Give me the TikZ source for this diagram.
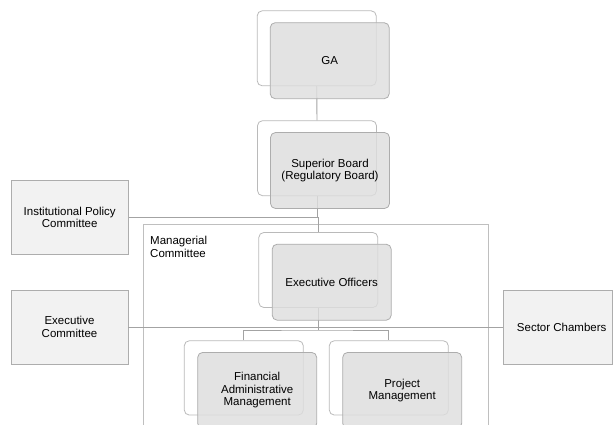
\documentclass[tikz,border=0pt]{standalone}
\usepackage{fontspec}
\setmainfont{Liberation Sans}
\begin{document}
\begin{tikzpicture}[x=1pt,y=-1pt,
  font=\fontsize{11.5}{12.6}\selectfont,
  backbox/.style={draw=black!27, fill=white, rounded corners=5pt, line width=0.8pt,
    minimum width=119pt, minimum height=75pt, inner sep=0pt},
  frontbox/.style={draw=black!32, fill=black!13, fill opacity=0.82, text opacity=1,
    rounded corners=5pt, line width=0.8pt, minimum width=119pt, minimum height=76pt,
    inner sep=0pt, align=center},
  sidebox/.style={draw=black!32, fill=black!5, line width=0.8pt,
    minimum width=117pt, minimum height=74pt, inner sep=0pt, align=center},
  link/.style={draw=black!36, line width=0.9pt}]
\useasboundingbox (0,0) rectangle (613,424);
% managerial committee frame
\node[draw=black!25, line width=0.8pt, minimum width=345pt, minimum height=206pt,
  inner sep=0pt, anchor=north west] (mgr) at (143.3,224.3) {};
\node[anchor=west, align=left, inner sep=0pt] (mgrt) at (150,247) {Managerial\\Committee};
% side boxes
\node[sidebox] (ipc) at (69.7,217.2) {Institutional Policy\\Committee};
\node[sidebox] (exc) at (69.5,327) {Executive\\Committee};
\node[sidebox, minimum width=109.4pt, label={[xshift=3.7pt]center:Sector Chambers}] (sc) at (558,327) {};
% back boxes
\node[backbox] (gab) at (316.7,48.3) {};
\node[backbox] (sbb) at (317,158.2) {};
\node[backbox] (ebb) at (318.3,270) {};
\node[backbox, minimum height=74.3pt] (fbb) at (243.8,377.9) {};
\node[backbox, minimum height=74.3pt] (pbb) at (388.8,377.9) {};
% connectors
\draw[link] (gab.south) -- (sbb.north);
\draw[link] (ipc.east) -- (ipc.east -| sbb.south);
\draw[link] (sbb.south) -- ++(0,21) -| (ebb.north);
\draw[link] (exc.east) -- (sc.west);
\coordinate (bar) at (318.3,330);
\draw[link] (ebb.south) -- (bar);
\draw[link] (fbb.north) |- (bar) -| (pbb.north);
% front boxes
\node[frontbox] (ga) at (329.7,60.7) {GA};
\node[frontbox] (sb) at (330,170.5) {Superior Board\\(Regulatory Board)};
\node[frontbox] (eo) at (331.7,282.2) {Executive Officers};
\node[frontbox] (fam) at (257.2,390.4) {Financial\\Administrative\\Management};
\node[frontbox] (pm) at (402.2,390.4) {Project\\Management};
\end{tikzpicture}
\end{document}
